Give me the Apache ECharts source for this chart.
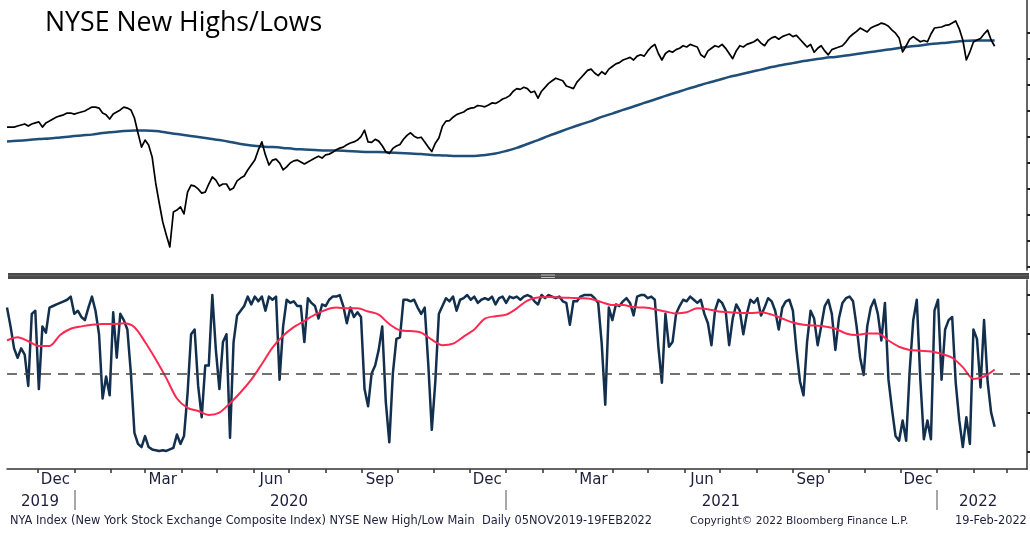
<!DOCTYPE html>
<html><head><meta charset="utf-8">
<script src="https://cdn.jsdelivr.net/npm/echarts@6/dist/echarts.min.js"></script>
<style>html,body{margin:0;padding:0;background:#fff}#c{width:1030px;height:535px}</style>
</head><body><div id="c"></div><script>
// ---- data ----
const START_DATE = '2019-11-05';
const DAILY_STEP_DAYS = 3;   // spacing of price / new-high-low readings
const MA_STEP_DAYS = 9;      // spacing of moving-average readings

// NYA index close (every 3 days)
const priceClose = [
13370,13370,13370,13410,13450,13490,13410,13490,13530,13570,
13370,13530,13600,13680,13760,13800,13840,13910,13910,13870,
13910,13950,13990,14070,14140,14140,14100,13910,13840,13680,
13870,13950,14030,14140,14100,14030,13720,13140,12600,12870,
12680,12220,11220,10450,9720,9220,8760,10100,10180,10300,
10030,10870,11140,11100,10990,10830,10870,11180,11450,11330,
11100,11180,11180,10950,11030,11300,11410,11490,11720,11910,
12100,12490,12800,12300,11910,12100,12140,11990,11720,11840,
11990,12070,12100,12030,11950,12030,12100,12180,12250,12180,
12300,12330,12400,12500,12560,12600,12690,12760,12800,12870,
13000,13250,12800,12780,12900,12830,12650,12420,12350,12550,
12640,12700,12900,13050,13150,13020,12950,12980,12800,12600,
12430,12750,12950,13400,13600,13620,13750,13850,13900,13950,
14050,14100,14120,14200,14180,14150,14220,14300,14280,14350,
14450,14500,14580,14750,14850,14820,14900,14850,14700,14750,
14480,14750,14900,15050,15150,15250,15200,15150,14950,14900,
14850,15100,15250,15400,15550,15600,15450,15350,15500,15400,
15600,15700,15800,15850,15950,16000,16050,15950,16100,16150,
16100,16300,16450,16550,16200,15950,16200,16300,16250,16350,
16400,16500,16450,16550,16500,16450,16150,16050,16300,16400,
16500,16450,16550,16400,16200,16000,16300,16500,16450,16550,
16600,16650,16750,16600,16500,16700,16800,16850,16750,16850,
16900,16950,16850,16900,16750,16600,16450,16550,16250,16400,
16500,16300,16150,16350,16400,16450,16500,16650,16830,16950,
17050,17180,17100,17030,17180,17250,17300,17370,17330,17250,
17100,16980,16800,16260,16500,16750,16850,16750,16650,16700,
16650,16950,17180,17200,17220,17280,17300,17370,17450,17150,
16720,15950,16260,16640,16720,16780,16950,17100,16720,16480];

// 200-day moving average of NYA (every 9 days)
const priceMA200 = [
12820,12840,12870,12910,12930,12970,13010,13050,13080,13140,
13180,13220,13240,13240,13220,13160,13100,13050,12990,12930,
12870,12800,12720,12660,12620,12600,12570,12530,12510,12490,
12470,12470,12450,12430,12410,12410,12390,12370,12350,12330,
12300,12280,12260,12260,12260,12300,12350,12450,12570,12720,
12870,13030,13180,13330,13470,13600,13760,13890,14030,14160,
14300,14430,14570,14700,14830,14950,15070,15180,15300,15390,
15490,15580,15680,15760,15830,15910,15970,16030,16070,16120,
16180,16240,16300,16350,16410,16470,16510,16570,16600,16640,
16680,16700,16700,16700];

// NYSE new highs / (highs + lows), % (every 3 days)
const newHighLowPct = [
92,80,66,60,66,62,42,88,90,40,
80,76,92,93,94,95,96,97,99,88,
90,86,84,92,99,90,75,34,48,36,
89,60,88,84,78,50,12,5,3,10,
3,1.5,1,0.5,1,0.5,1.5,2.5,11,5,
10,37,75,78,42,22,55,55,100,65,
40,70,75,9,70,87,90,93,99,94,
99,96,99,90,99,97,99,46,80,97,
95,96,93,93,70,98,95,93,85,94,
93,97,99,99,100,93,82,92,86,89,
86,40,29,50,55,65,80,32,6,50,
72,73,97,97,96,97,92,88,92,56,
14,45,88,93,98,96,99,90,97,98,
100,97,99,95,97,98,97,99,94,98,
99,95,99,98,99,97,99,100,99,96,
94,100,98,100,99,98,99,96,95,81,
96,96,99,100,100,100,98,95,69,30,
92,84,94,93,96,98,95,87,99,100,
100,98,99,97,67,44,88,67,70,88,
93,97,96,99,97,95,97,88,82,68,
90,97,95,90,68,85,94,90,75,88,
97,95,98,87,92,98,96,90,78,92,
96,97,90,65,45,36,70,90,85,68,
80,93,97,88,65,85,95,98,99,96,
80,60,49,80,92,97,88,71,95,46,
27,10,7,20,7,52,84,97,46,8,
20,8,90,97,46,78,84,86,44,20,
3,22,5,78,72,41,84,45,25,16];

// 50-day moving average of the new high/low % (every 9 days)
const newHighLowMA = [
71,73,70.5,67.5,67.5,74.5,78.5,80,81,81.5,
81.5,82,79.5,70,59,47,34,28,26,23.5,
25,31,38,46,56,66.5,74,79.5,83.5,87.5,
90.5,92,91.5,91.5,89.5,87.5,81.5,77.5,77,76,
71.5,68,69,73.5,78,85,86.5,87.5,91.5,96.5,
98.5,98.7,98.5,98.2,98,97.5,95.5,93.6,93.6,92.3,
92,91,89.5,88.3,89,91.5,91,89.5,89,88.5,
88.5,89,87.5,85,82.5,81,80.5,80,78.5,75.5,
74.5,75.5,75.5,71,67,65,64.5,64,62.5,60,
54,46.5,48,52.5];

const midLine = 50;

// axis ticks and labels
const monthTickDates = ['2019-12-01','2020-01-01','2020-02-01','2020-03-01','2020-04-01','2020-05-01','2020-06-01','2020-07-01','2020-08-01','2020-09-01','2020-10-01','2020-11-01','2020-12-01','2021-01-01','2021-02-01','2021-03-01','2021-04-01','2021-05-01','2021-06-01','2021-07-01','2021-08-01','2021-09-01','2021-10-01','2021-11-01','2021-12-01','2022-01-01','2022-02-01','2022-03-01'];
const monthLabelDates = ['2019-12-16','2020-03-16','2020-06-16','2020-09-16','2020-12-16','2021-03-16','2021-06-16','2021-09-16','2021-12-16'];
const monthNames = ['Jan','Feb','Mar','Apr','May','Jun','Jul','Aug','Sep','Oct','Nov','Dec'];
const yearBreakDates = ['2020-01-01','2021-01-01','2022-01-01'];
const yearLabelDates = ['2019-12-03','2020-07-01','2021-07-02','2022-02-05'];
const priceTicks = [8000,9000,10000,11000,12000,13000,14000,15000,16000,17000];
const pctTicks = [0,25,50,75,100];

const titleText = 'NYSE New Highs/Lows';
const footerLeft = 'NYA Index (New York Stock Exchange Composite Index) NYSE New High/Low Main  Daily 05NOV2019-19FEB2022';
const footerMid = 'Copyright\u00A9 2022 Bloomberg Finance L.P.';
const footerRight = '19-Feb-2022';

// ---- build ----
const DAY = 86400000;
const START = Date.parse(START_DATE);
const AXIS_MAX = START + 864.4 * DAY;
const toXY = (vals, step) => vals.map((v, i) => [START + i * step * DAY, v]);
const ts = arr => arr.map(d => Date.parse(d));

const chart = echarts.init(document.getElementById('c'), null, {renderer: 'canvas'});
const axisColor = '#333';
const textColor = '#1e1e3c';

chart.setOption({
  animation: false,
  backgroundColor: '#fff',
  grid: [
    {left: 7, right: 3, top: 0, height: 270},
    {left: 7, right: 3, top: 280, height: 189}
  ],
  xAxis: [
    {type: 'value', gridIndex: 0, min: START, max: AXIS_MAX, show: false},
    {type: 'value', gridIndex: 1, min: START, max: AXIS_MAX, position: 'bottom',
      axisLine: {show: true, onZero: false, lineStyle: {color: axisColor, width: 1.5}},
      axisTick: {show: true, customValues: ts(monthTickDates), length: 4, lineStyle: {color: axisColor, width: 1.5}},
      axisLabel: {show: true, customValues: ts(monthLabelDates), formatter: v => monthNames[new Date(v).getUTCMonth()],
        fontFamily: 'DejaVu Sans', fontSize: 15, color: textColor, margin: 4},
      splitLine: {show: false}},
    {type: 'value', gridIndex: 1, min: START, max: AXIS_MAX, position: 'bottom', offset: 21,
      axisLine: {show: false, onZero: false},
      axisTick: {show: true, customValues: ts(yearBreakDates), length: 20, lineStyle: {color: '#8a8a8a', width: 1.5}},
      axisLabel: {show: true, customValues: ts(yearLabelDates), formatter: v => String(new Date(v).getUTCFullYear()),
        fontFamily: 'DejaVu Sans', fontSize: 15, color: textColor, margin: 5},
      splitLine: {show: false}}
  ],
  yAxis: [
    {type: 'value', gridIndex: 0, position: 'right', min: 7873, max: 18258,
      axisLine: {show: true, lineStyle: {color: axisColor, width: 1.5}},
      axisTick: {show: true, customValues: priceTicks, length: 4, lineStyle: {color: '#222', width: 2}},
      axisLabel: {show: false}, splitLine: {show: false}},
    {type: 'value', gridIndex: 1, position: 'right', min: -11, max: 109.6,
      axisLine: {show: true, lineStyle: {color: axisColor, width: 1.5}},
      axisTick: {show: true, customValues: pctTicks, length: 4, lineStyle: {color: '#222', width: 2}},
      axisLabel: {show: false}, splitLine: {show: false}}
  ],
  series: [
    {name: 'NYA', type: 'line', xAxisIndex: 0, yAxisIndex: 0, data: toXY(priceClose, DAILY_STEP_DAYS),
      showSymbol: false, lineStyle: {color: '#000', width: 1.7, join: 'round'}, z: 3},
    {name: 'MA200', type: 'line', xAxisIndex: 0, yAxisIndex: 0, data: toXY(priceMA200, MA_STEP_DAYS),
      showSymbol: false, smooth: 0.3, lineStyle: {color: '#1f4e79', width: 2.5}, z: 2},
    {name: 'NewHighLow', type: 'line', xAxisIndex: 1, yAxisIndex: 1, data: toXY(newHighLowPct, DAILY_STEP_DAYS),
      showSymbol: false, lineStyle: {color: '#132f4e', width: 2.5, join: 'round'}, z: 2,
      markLine: {silent: true, symbol: 'none', label: {show: false}, z: 5,
        lineStyle: {color: '#444', type: [10, 7], width: 1.5}, data: [{yAxis: midLine}]}},
    {name: 'NewHighLowMA', type: 'line', xAxisIndex: 1, yAxisIndex: 1, data: toXY(newHighLowMA, MA_STEP_DAYS),
      showSymbol: false, smooth: 0.3, lineStyle: {color: '#ff2850', width: 2}, z: 4}
  ],
  graphic: [
    {type: 'text', left: 45, top: 10, style: {text: titleText, fontFamily: 'Open Sans', fontSize: 26.7, fill: '#000'}},
    {type: 'rect', shape: {x: 8, y: 273, width: 1021, height: 6}, style: {fill: '#4a4a4a'}},
    {type: 'rect', shape: {x: 8, y: 275, width: 1021, height: 1}, style: {fill: '#5e5e5e'}},
    {type: 'rect', shape: {x: 541, y: 274.5, width: 14, height: 1}, style: {fill: '#bdbdbd'}},
    {type: 'rect', shape: {x: 541, y: 277, width: 14, height: 1}, style: {fill: '#bdbdbd'}},
    {type: 'text', left: 10, top: 516, style: {text: footerLeft, fontFamily: 'DejaVu Sans', fontSize: 11.4, fill: textColor}},
    {type: 'text', left: 690, top: 516, style: {text: footerMid, fontFamily: 'DejaVu Sans', fontSize: 10.6, fill: textColor}},
    {type: 'text', left: 955, top: 516, style: {text: footerRight, fontFamily: 'DejaVu Sans', fontSize: 11.4, fill: textColor}}
  ]
});
</script></body></html>
